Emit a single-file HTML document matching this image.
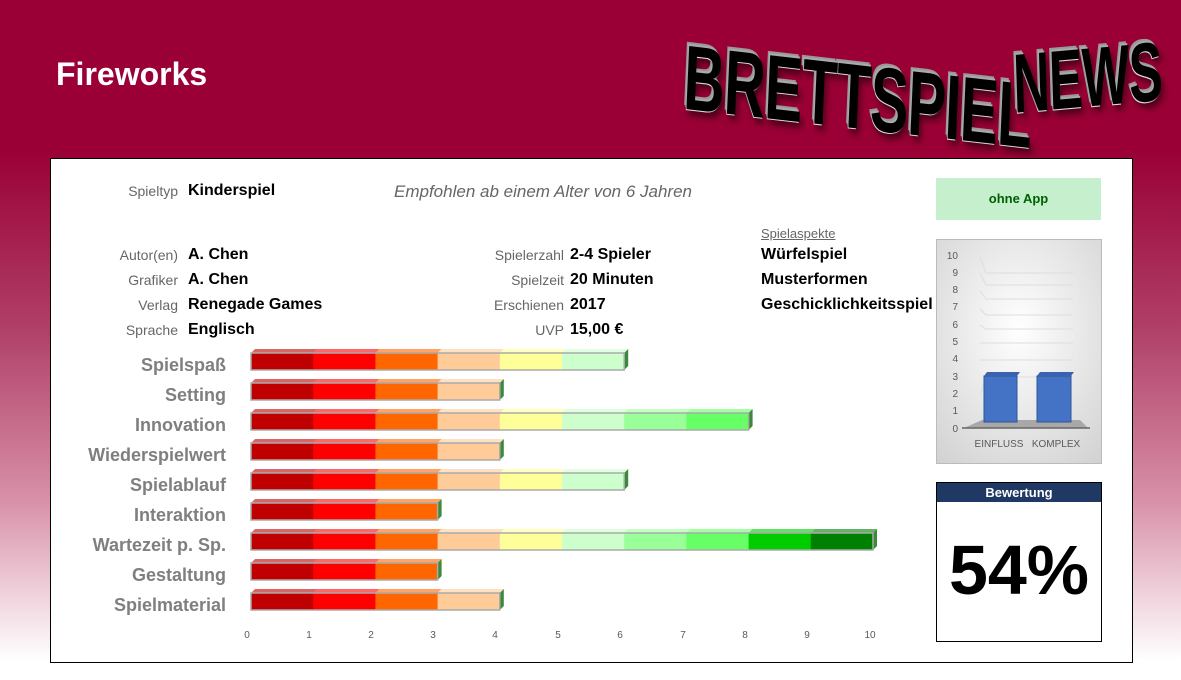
<!DOCTYPE html>
<html><head><meta charset="utf-8"><style>
body{margin:0;width:1181px;height:680px;overflow:hidden;font-family:"Liberation Sans",sans-serif;
background:linear-gradient(to bottom,#9a0035 0px,#9a0035 150px,#b04068 330px,#d890a8 500px,#fff 660px);position:relative}
.a{position:absolute;white-space:nowrap}
.lab{color:#666;font-size:14px;text-align:right}
.val{color:#000;font-size:16px;font-weight:bold}
.cat{color:#7f7f7f;font-size:18px;font-weight:bold;text-align:right;width:200px;left:26px}
.logo{font-family:"Liberation Sans Narrow","Liberation Sans",sans-serif;font-weight:bold;color:#000;
text-shadow:-2px -2px 0 #aaa,-4px -4px 0 #999,-1px 1px 0 #ddd,4px 6px 8px rgba(0,0,0,.5);letter-spacing:-1px;line-height:1}
</style></head><body>
<div class="a" style="left:56px;top:56px;color:#fff;font-size:32px;font-weight:bold">Fireworks</div>
<div class="a logo" style="left:686px;top:32px;font-size:92px;transform:scaleX(0.62) rotate(4deg);transform-origin:left top">BRETTSPIEL</div>
<div class="a logo" style="left:1012px;top:42px;font-size:84px;transform:scaleX(0.6) rotate(-3deg);transform-origin:left top">NEWS</div>
<div class="a" style="left:50px;top:158px;width:1081px;height:503px;background:#fff;border:1px solid #000"></div>

<div class="a lab" style="left:80px;top:183px;width:98px">Spieltyp</div>
<div class="a val" style="left:188px;top:182px">Kinderspiel</div>
<div class="a" style="left:394px;top:182px;color:#666;font-size:17px;font-style:italic">Empfohlen ab einem Alter von 6 Jahren</div>
<div class="a lab" style="left:80px;top:247px;width:98px">Autor(en)</div>
<div class="a lab" style="left:80px;top:272px;width:98px">Grafiker</div>
<div class="a lab" style="left:80px;top:297px;width:98px">Verlag</div>
<div class="a lab" style="left:80px;top:322px;width:98px">Sprache</div>
<div class="a val" style="left:188px;top:246px">A. Chen</div>
<div class="a val" style="left:188px;top:271px">A. Chen</div>
<div class="a val" style="left:188px;top:296px">Renegade Games</div>
<div class="a val" style="left:188px;top:321px">Englisch</div>
<div class="a lab" style="left:464px;top:247px;width:100px">Spielerzahl</div>
<div class="a lab" style="left:464px;top:272px;width:100px">Spielzeit</div>
<div class="a lab" style="left:464px;top:297px;width:100px">Erschienen</div>
<div class="a lab" style="left:464px;top:322px;width:100px">UVP</div>
<div class="a val" style="left:570px;top:246px">2-4 Spieler</div>
<div class="a val" style="left:570px;top:271px">20 Minuten</div>
<div class="a val" style="left:570px;top:296px">2017</div>
<div class="a val" style="left:570px;top:321px">15,00 €</div>
<div class="a" style="left:761px;top:226px;color:#666;font-size:13px;text-decoration:underline">Spielaspekte</div>
<div class="a val" style="left:761px;top:246px">Würfelspiel</div>
<div class="a val" style="left:761px;top:271px">Musterformen</div>
<div class="a val" style="left:761px;top:296px">Geschicklichkeitsspiel</div>

<div class="a cat" style="top:355px">Spielspaß</div>
<div class="a cat" style="top:385px">Setting</div>
<div class="a cat" style="top:415px">Innovation</div>
<div class="a cat" style="top:445px">Wiederspielwert</div>
<div class="a cat" style="top:475px">Spielablauf</div>
<div class="a cat" style="top:505px">Interaktion</div>
<div class="a cat" style="top:535px">Wartezeit p. Sp.</div>
<div class="a cat" style="top:565px">Gestaltung</div>
<div class="a cat" style="top:595px">Spielmaterial</div>

<svg class="a" style="left:0;top:0" width="1181" height="680">
<g id="bars"></g>
<g font-size="10" fill="#595959" font-family="Liberation Sans">
<text x="247" y="638" text-anchor="middle">0</text><text x="309" y="638" text-anchor="middle">1</text><text x="371" y="638" text-anchor="middle">2</text><text x="433" y="638" text-anchor="middle">3</text><text x="495" y="638" text-anchor="middle">4</text><text x="558" y="638" text-anchor="middle">5</text><text x="620" y="638" text-anchor="middle">6</text><text x="683" y="638" text-anchor="middle">7</text><text x="745" y="638" text-anchor="middle">8</text><text x="807" y="638" text-anchor="middle">9</text><text x="870" y="638" text-anchor="middle">10</text>
</g>
</svg>
<script>
var cols=["#c00000","#ff0000","#ff6600","#ffcc99","#ffff99","#ccffcc","#99ff99","#66ff66","#00cc00","#008000"];
var vals=[6,4,8,4,6,3,10,3,4],s="",u=62.2,x0=251;
vals.forEach(function(v,i){var y=353+i*30;
for(var k=0;k<v;k++){var x=x0+k*u;
s+='<polygon points="'+x+','+(y)+' '+(x+4)+','+(y-4)+' '+(x+u+4)+','+(y-4)+' '+(x+u)+','+y+'" fill="'+cols[k]+'" opacity="0.6"/>';
s+='<rect x="'+x+'" y="'+y+'" width="'+(u+0.5)+'" height="17" fill="'+cols[k]+'"/>';}
var xe=x0+v*u;s+='<polygon points="'+xe+','+y+' '+(xe+4)+','+(y-4)+' '+(xe+4)+','+(y+13)+' '+xe+','+(y+17)+'" fill="#3a8a3a"/>';
s+='<rect x="'+x0+'" y="'+y+'" width="'+(v*u)+'" height="17" fill="none" stroke="#aaa" stroke-width="1.5"/>';});
document.getElementById("bars").innerHTML=s;
</script>

<div class="a" style="left:936px;top:178px;width:165px;height:42px;background:#c6efce;color:#006100;font-size:13px;font-weight:bold;text-align:center;line-height:42px">ohne App</div>

<svg class="a" style="left:936px;top:239px" width="166" height="225">
<defs><radialGradient id="g" cx="50%" cy="40%" r="80%"><stop offset="0" stop-color="#fff"/><stop offset="1" stop-color="#d0d0d0"/></radialGradient></defs>
<rect x="0.5" y="0.5" width="165" height="224" fill="url(#g)" stroke="#bbb"/>
<g stroke="#ddd" fill="none">
<polyline points="44,156 50,138 137,138"/><polyline points="44,121 50,121 137,121"/>
<polyline points="44,104 50,104 137,104"/><polyline points="44,86 50,90 137,90"/>
<polyline points="44,70 50,76 137,76"/><polyline points="44,52 50,60 137,60"/>
<polyline points="44,34 50,46 137,46"/><polyline points="44,18 50,34 137,34"/>
</g>
<polygon points="28,189 46,181 144,181 152,189" fill="#a8a8a8"/>
<line x1="26" y1="189" x2="154" y2="189" stroke="#666" stroke-width="1.5"/>
<rect x="48" y="137" width="33" height="46" fill="#4472c4" stroke="#2f5597"/>
<polygon points="48,137 51,133 84,133 81,137" fill="#3a62b0"/>
<rect x="101" y="137" width="34" height="46" fill="#4472c4" stroke="#2f5597"/>
<polygon points="101,137 104,133 138,133 135,137" fill="#3a62b0"/>
<g font-size="10" fill="#595959" text-anchor="end" font-family="Liberation Sans">
<text x="22" y="193">0</text><text x="22" y="175">1</text><text x="22" y="158">2</text><text x="22" y="141">3</text><text x="22" y="123">4</text><text x="22" y="106">5</text><text x="22" y="89">6</text><text x="22" y="71">7</text><text x="22" y="54">8</text><text x="22" y="37">9</text><text x="22" y="20">10</text>
</g>
<g font-size="10" fill="#595959" text-anchor="middle" font-family="Liberation Sans"><text x="63" y="208">EINFLUSS</text><text x="120" y="208">KOMPLEX</text></g>
</svg>

<div class="a" style="left:936px;top:482px;width:164px;height:158px;border:1px solid #000;background:#fff"></div>
<div class="a" style="left:937px;top:483px;width:164px;height:19px;background:#1f3864;color:#fff;font-size:13px;font-weight:bold;text-align:center;line-height:19px">Bewertung</div>
<div class="a" style="left:936px;top:530px;width:166px;text-align:center;font-size:70px;font-weight:bold;color:#000">54%</div>
</body></html>
